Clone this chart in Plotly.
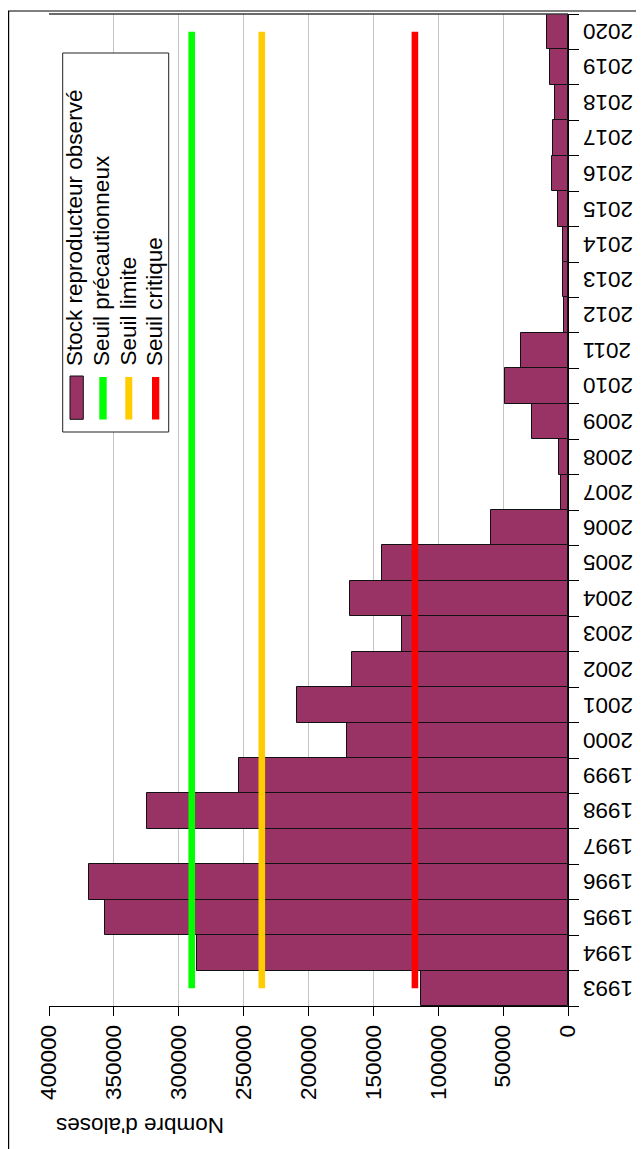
import plotly.graph_objects as go

# ---- data ----
years = [str(y) for y in range(1993, 2021)]
stock = [113400, 285600, 357200, 369500, 235000, 324300, 253700, 170400,
         208800, 166700, 128000, 167800, 143600, 59500, 5100, 6900,
         27400, 48200, 36400, 2800, 3600, 3800, 7400, 12000,
         11500, 9700, 14100, 16200]
seuil_names = ["Seuil précautionneux", "Seuil limite", "Seuil critique"]
seuil_values = [290000, 236000, 118000]
seuil_colors = ["#00ff00", "#ffcc00", "#ff0000"]
bar_name = "Stock reproducteur observé"
bar_color = "#993366"
axis_title = "Nombre d'aloses"

# ---- layout geometry (page pixels; the page body adds an 8px offset) ----
OFF = 8
W, H = 644 - OFF, 1149 - OFF
L, R, T, B = 49, 568, 14, 1006          # plot area in page pixels
FONT = "Liberation Sans, Arial, sans-serif"
FS = 22.5


def px(x):
    return (x - L) / (R - L)


def py(y):
    return (B - y) / (B - T)


fig = go.Figure()
fig.add_trace(go.Bar(
    y=years, x=stock, orientation="h", name=bar_name,
    marker=dict(color=bar_color, line=dict(color="#111111", width=1)),
    showlegend=False,
))
for n, v, c in zip(seuil_names, seuil_values, seuil_colors):
    fig.add_trace(go.Scatter(
        y=[years[0], years[-1]], x=[v, v], mode="lines", name=n,
        line=dict(color=c, width=6.6), showlegend=False,
    ))

shapes = []
annotations = []

# outer frame
shapes.append(dict(type="rect", xref="paper", yref="paper",
                   x0=px(8.6), x1=px(700), y0=py(1200), y1=py(11),
                   line=dict(color="black", width=1.2), fillcolor="rgba(0,0,0,0)",
                   layer="above"))
# top border of plot
shapes.append(dict(type="line", xref="paper", yref="paper",
                   x0=0, x1=1, y0=1, y1=1,
                   line=dict(color="#3a3a3a", width=1.5), layer="above"))

# legend box
shapes.append(dict(type="rect", xref="paper", yref="paper",
                   x0=px(62.7), x1=px(168.7), y0=py(432), y1=py(53),
                   line=dict(color="#222222", width=1), fillcolor="white",
                   layer="above"))
# legend symbols
shapes.append(dict(type="rect", xref="paper", yref="paper",
                   x0=px(70), x1=px(83.3), y0=py(419.3), y1=py(376),
                   line=dict(color="#111111", width=1), fillcolor=bar_color,
                   layer="above"))
sym_x = [(99.3, 106.7), (125.3, 132.3), (152, 159.3)]
for (a, b), c in zip(sym_x, seuil_colors):
    shapes.append(dict(type="rect", xref="paper", yref="paper",
                       x0=px(a), x1=px(b), y0=py(419.5), y1=py(377),
                       line=dict(width=0), fillcolor=c, layer="above"))

legend_labels = [bar_name] + seuil_names
legend_x = [75, 101.5, 128, 154.5]
for lab, xx in zip(legend_labels, legend_x):
    annotations.append(dict(text=lab, xref="paper", yref="paper",
                            x=px(xx), y=py(368), xanchor="center", yanchor="bottom",
                            textangle=-90, showarrow=False,
                            font=dict(family=FONT, size=FS, color="black")))

# year labels (upside down) on the right side; category axis uses serial numbers
for i, yr in enumerate(years):
    annotations.append(dict(text=yr, xref="paper", yref="y",
                            x=px(581), y=i, xanchor="left", yanchor="middle",
                            textangle=180, showarrow=False,
                            font=dict(family=FONT, size=FS, color="black")))

# axis title (upside down)
annotations.append(dict(text=axis_title, xref="paper", yref="paper",
                        x=px(140.5), y=py(1126), xanchor="center", yanchor="middle",
                        textangle=180, showarrow=False,
                        font=dict(family=FONT, size=FS, color="black")))

fig.update_layout(
    width=W, height=H,
    margin=dict(l=L - OFF, r=(W + OFF) - R, t=T - OFF, b=(H + OFF) - B, pad=0),
    paper_bgcolor="white", plot_bgcolor="white",
    bargap=0,
    font=dict(family=FONT, size=FS, color="black"),
    shapes=shapes, annotations=annotations,
    showlegend=False,
    xaxis=dict(
        range=[400000, 0], tick0=0, dtick=50000, tickformat="d",
        tickangle=-90, ticks="outside", ticklen=9, tickcolor="black",
        showline=True, linecolor="black", linewidth=1,
        showgrid=True, gridcolor="#c4c4c4", gridwidth=1,
        zeroline=False, tickfont=dict(family=FONT, size=FS, color="black"),
    ),
    yaxis=dict(
        type="category", side="right", tickson="boundaries",
        showticklabels=False, ticks="outside", ticklen=10, tickcolor="black",
        showline=True, linecolor="black", linewidth=1,
        showgrid=False, zeroline=False,
        range=[-0.5, len(years) - 0.5],
    ),
)

fig.write_html("out.html")
